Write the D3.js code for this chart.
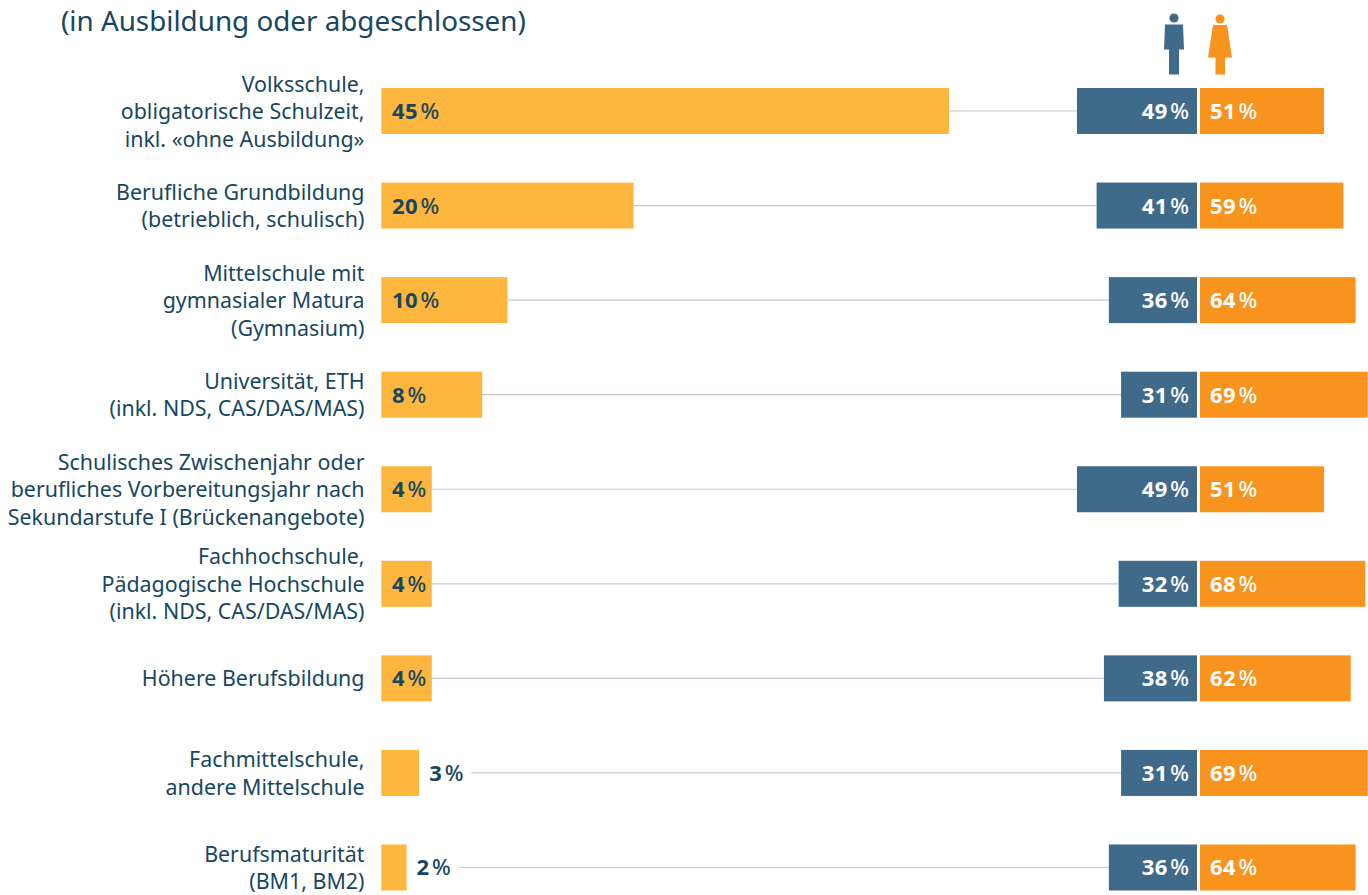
<!DOCTYPE html>
<html lang="de">
<head>
<meta charset="utf-8">
<script src="https://cdn.jsdelivr.net/npm/d3@7"></script>
<style>
  html, body { margin: 0; padding: 0; background: #fff; overflow: hidden; }
  svg { display: block; font-family: "Noto Sans", sans-serif; }
</style>
</head>
<body>
<svg id="chart"></svg>
<script>
const subtitle = "(in Ausbildung oder abgeschlossen)";
const categories = [
    ["Volksschule,", "obligatorische Schulzeit,", "inkl. «ohne Ausbildung»"],
    ["Berufliche Grundbildung", "(betrieblich, schulisch)"],
    ["Mittelschule mit", "gymnasialer Matura", "(Gymnasium)"],
    ["Universität, ETH", "(inkl. NDS, CAS/DAS/MAS)"],
    ["Schulisches Zwischenjahr oder", "berufliches Vorbereitungsjahr nach", "Sekundarstufe I (Brückenangebote)"],
    ["Fachhochschule,", "Pädagogische Hochschule", "(inkl. NDS, CAS/DAS/MAS)"],
    ["Höhere Berufsbildung"],
    ["Fachmittelschule,", "andere Mittelschule"],
    ["Berufsmaturität", "(BM1, BM2)"]
];
const shares = [45, 20, 10, 8, 4, 4, 4, 3, 2];
const men = [49, 41, 36, 31, 49, 32, 38, 31, 36];
const women = [51, 59, 64, 69, 51, 68, 62, 69, 64];

const width = 1368, height = 895;
const ink = "#17475f", amber = "#ffb63e", blue = "#3f6a8a", orange = "#f8931d", rule = "#c6c8d6";

const svg = d3.select("#chart").attr("width", width).attr("height", height);

const y = d3.scaleBand().domain(d3.range(categories.length)).range([88, 890.5]).paddingInner(0.5135).paddingOuter(0);
const xShare = d3.scaleLinear().domain([0, 45]).range([381.3, 949]);
const xMen = d3.scaleLinear().domain([0, 49]).range([1197, 1077]);
const xWomen = d3.scaleLinear().domain([0, 51]).range([1200, 1324]);
const mid = i => y(i) + y.bandwidth() / 2;

svg.append("text")
    .attr("x", 61).attr("y", 31)
    .attr("fill", ink).attr("font-size", 27.8)
    .text(subtitle);

const row = svg.selectAll("g.row")
    .data(categories)
    .enter().append("g")
    .attr("class", "row");

// the connecting line starts after the label when the label sits outside the bar
const outside = v => v < 4;

row.append("line")
    .attr("x1", (d, i) => outside(shares[i]) ? xShare(shares[i]) + 52 : xShare(shares[i]))
    .attr("x2", (d, i) => xMen(men[i]))
    .attr("y1", (d, i) => mid(i))
    .attr("y2", (d, i) => mid(i))
    .attr("stroke", rule).attr("stroke-width", 1.2);

row.append("rect")
    .attr("x", xShare(0))
    .attr("y", (d, i) => y(i))
    .attr("width", (d, i) => xShare(shares[i]) - xShare(0))
    .attr("height", y.bandwidth())
    .attr("fill", amber);

row.append("rect")
    .attr("x", (d, i) => xMen(men[i]))
    .attr("y", (d, i) => y(i))
    .attr("width", (d, i) => xMen(0) - xMen(men[i]))
    .attr("height", y.bandwidth())
    .attr("fill", blue);

row.append("rect")
    .attr("x", xWomen(0))
    .attr("y", (d, i) => y(i))
    .attr("width", (d, i) => xWomen(women[i]) - xWomen(0))
    .attr("height", y.bandwidth())
    .attr("fill", orange);

const label = row.append("text")
    .attr("text-anchor", "end")
    .attr("fill", ink).attr("font-size", 21.4);

label.selectAll("tspan")
    .data((d, i) => d.map((t, k) => ({ t, k, n: d.length, i })))
    .enter().append("tspan")
    .attr("x", 364.5)
    .attr("y", d => mid(d.i) + 8 + (d.k - (d.n - 1) / 2) * 27.5)
    .text(d => d.t);

// digits bold, percent sign lighter and set slightly apart, as in the original
const pct = (sel, fill, values) => {
    sel.attr("fill", fill).attr("font-size", 22)
        .attr("y", (d, i) => mid(i) + 8);
    sel.append("tspan").attr("font-weight", 700).attr("letter-spacing", 0.4).text((d, i) => values[i]);
    sel.append("tspan").attr("dx", 2.5).attr("font-weight", 500).text("%");
};

row.append("text")
    .call(pct, ink, shares)
    .attr("x", (d, i) => outside(shares[i]) ? xShare(shares[i]) + 10 : xShare(0) + 10.7);

row.append("text")
    .call(pct, "#fff", men)
    .attr("x", xMen(0) - 8)
    .attr("text-anchor", "end");

row.append("text")
    .call(pct, "#fff", women)
    .attr("x", xWomen(0) + 10);

// pictograms above the gender columns
const man = svg.append("g").attr("transform", "translate(1174,0)").attr("fill", blue);
man.append("circle").attr("cy", 18).attr("r", 4.6);
man.append("path").attr("d", "M-9,24.5H9L10,49.5H5V74.5H-5V49.5H-10Z");

const woman = svg.append("g").attr("transform", "translate(1220,0)").attr("fill", orange);
woman.append("circle").attr("cy", 19).attr("r", 4.6);
woman.append("path").attr("d", "M-7,25H7L12,57.5H5V74.5H-4.5V57.5H-12Z");
</script>
</body>
</html>
